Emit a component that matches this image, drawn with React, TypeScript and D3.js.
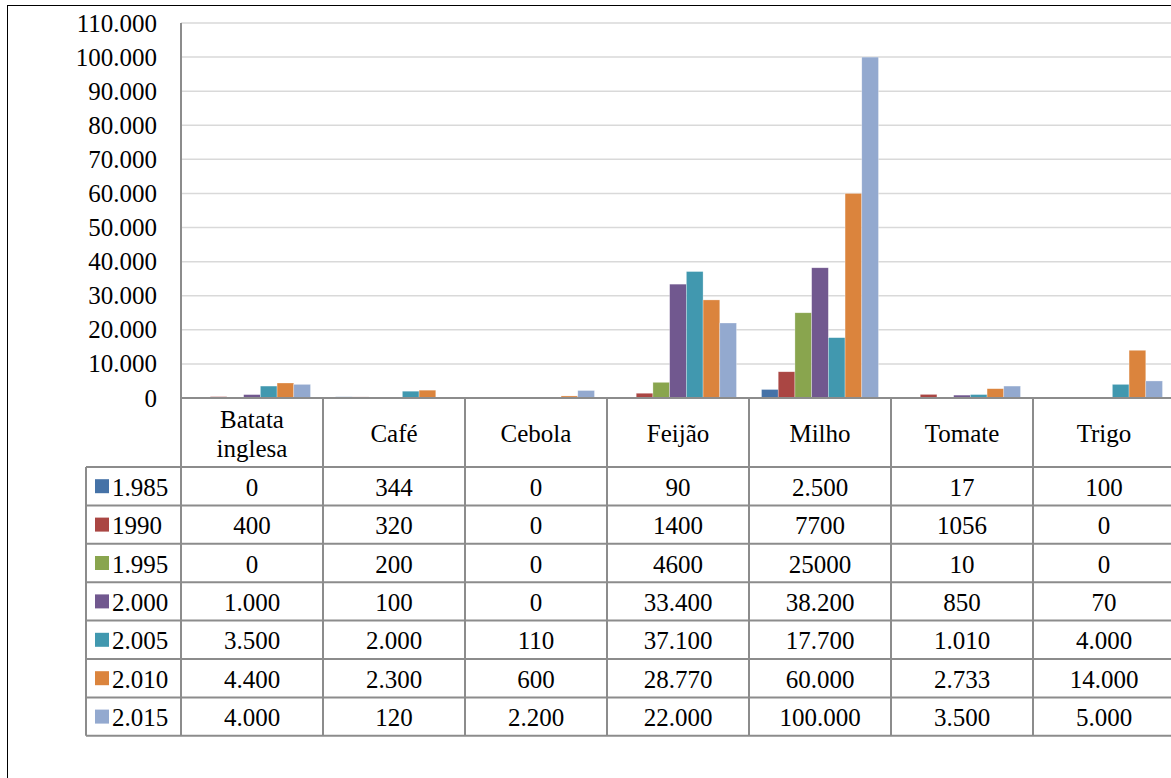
import React from 'react';
import * as d3 from 'd3';

// categories and series
const categories = ['Batata inglesa', 'Café', 'Cebola', 'Feijão', 'Milho', 'Tomate', 'Trigo'];
const seriesNames = ['1.985', '1990', '1.995', '2.000', '2.005', '2.010', '2.015'];
const colors = ['#4572A7', '#AA4643', '#89A54E', '#71588F', '#4198AF', '#DB843D', '#93A9CF'];

const v1985 = [0, 344, 0, 90, 2500, 17, 100];
const v1990 = [400, 320, 0, 1400, 7700, 1056, 0];
const v1995 = [0, 200, 0, 4600, 25000, 10, 0];
const v2000 = [1000, 100, 0, 33400, 38200, 850, 70];
const v2005 = [3500, 2000, 110, 37100, 17700, 1010, 4000];
const v2010 = [4400, 2300, 600, 28770, 60000, 2733, 14000];
const v2015 = [4000, 120, 2200, 22000, 100000, 3500, 5000];

// table cell text exactly as printed
const l1985 = ['0', '344', '0', '90', '2.500', '17', '100'];
const l1990 = ['400', '320', '0', '1400', '7700', '1056', '0'];
const l1995 = ['0', '200', '0', '4600', '25000', '10', '0'];
const l2000 = ['1.000', '100', '0', '33.400', '38.200', '850', '70'];
const l2005 = ['3.500', '2.000', '110', '37.100', '17.700', '1.010', '4.000'];
const l2010 = ['4.400', '2.300', '600', '28.770', '60.000', '2.733', '14.000'];
const l2015 = ['4.000', '120', '2.200', '22.000', '100.000', '3.500', '5.000'];

const yTicks = [0, 10000, 20000, 30000, 40000, 50000, 60000, 70000, 80000, 90000, 100000, 110000];

const values = [v1985, v1990, v1995, v2000, v2005, v2010, v2015];
const labels = [l1985, l1990, l1995, l2000, l2005, l2010, l2015];

const W = 1171;
const H = 778;
const plotLeft = 181;
const plotTop = 23;
const plotBottom = 398;
const catW = 142;
const headerBottom = 467;
const rowH = 38.4;
const legendLeft = 86;
const font = "'Liberation Serif', 'Times New Roman', serif";
const fs = 25;

// thousands separator is a dot
const fmt = (n: number) => d3.format(',')(n).replace(/,/g, '.');

const App: React.FC = () => {
  const x = d3.scaleBand<string>()
    .domain(categories)
    .range([plotLeft, plotLeft + catW * categories.length]);
  const xs = d3.scaleBand<string>()
    .domain(seriesNames)
    .range([12.5, catW - 12.5]);
  const y = d3.scaleLinear().domain([0, 110000]).range([plotBottom, plotTop]);

  const tableBottom = headerBottom + rowH * seriesNames.length;
  const grid = '#8C8C8C';

  return (
    <svg width={W} height={H} style={{ position: 'fixed', left: 0, top: 0, background: '#fff', fontFamily: font }}>
      <rect x={7.5} y={5.5} width={W} height={H} fill="#fff" stroke="#000" strokeWidth={1} />

      {/* gridlines and y labels */}
      {yTicks.map(t => (
        <g key={t}>
          {t > 0 && <line x1={plotLeft} x2={W} y1={y(t)} y2={y(t)} stroke="#D9D9D9" strokeWidth={1.5} />}
          <text x={157} y={y(t)} textAnchor="end" dominantBaseline="central" fontSize={fs}>
            {fmt(t)}
          </text>
        </g>
      ))}

      {/* bars */}
      {categories.map((c, ci) => (
        <g key={c} transform={`translate(${x(c)},0)`}>
          {seriesNames.map((s, si) => {
            const v = values[si][ci];
            return (
              <rect
                key={s}
                x={xs(s)}
                y={y(v)}
                width={xs.bandwidth()}
                height={plotBottom - y(v)}
                fill={colors[si]}
                stroke="#ffffff"
                strokeOpacity={0.5}
                strokeWidth={0.6}
              />
            );
          })}
        </g>
      ))}

      {/* axis line */}
      <line x1={plotLeft} x2={plotLeft} y1={plotTop} y2={tableBottom} stroke={grid} strokeWidth={2} />

      {/* data table */}
      <line x1={plotLeft} x2={W} y1={plotBottom} y2={plotBottom} stroke={grid} strokeWidth={2} />
      {categories.map(c => (
        <line key={c} x1={x(c)! + catW} x2={x(c)! + catW} y1={plotBottom} y2={tableBottom} stroke={grid} strokeWidth={2} />
      ))}
      {seriesNames.map((s, si) => (
        <line key={s} x1={legendLeft} x2={W} y1={headerBottom + si * rowH} y2={headerBottom + si * rowH} stroke={grid} strokeWidth={2} />
      ))}
      <line x1={legendLeft} x2={W} y1={tableBottom} y2={tableBottom} stroke={grid} strokeWidth={2} />
      <line x1={legendLeft} x2={legendLeft} y1={headerBottom} y2={tableBottom} stroke={grid} strokeWidth={2} />

      {/* header texts */}
      {categories.map(c => {
        const words = c === 'Batata inglesa' ? ['Batata', 'inglesa'] : [c];
        const cx = x(c)! + catW / 2;
        const cy = (plotBottom + headerBottom) / 2 + 1;
        return (
          <text key={c} x={cx} textAnchor="middle" fontSize={fs}>
            {words.map((w, i) => (
              <tspan key={w} x={cx} y={cy + (i - (words.length - 1) / 2) * 29} dominantBaseline="central">
                {w}
              </tspan>
            ))}
          </text>
        );
      })}

      {/* rows */}
      {seriesNames.map((s, si) => {
        const cy = headerBottom + si * rowH + rowH / 2;
        return (
          <g key={s}>
            <rect x={95} y={cy - 7} width={14} height={14} fill={colors[si]} />
            <text x={112} y={cy + 1} dominantBaseline="central" fontSize={fs}>{s}</text>
            {categories.map((c, ci) => (
              <text key={c} x={x(c)! + catW / 2} y={cy + 1} textAnchor="middle" dominantBaseline="central" fontSize={fs}>
                {labels[si][ci]}
              </text>
            ))}
          </g>
        );
      })}
    </svg>
  );
};

export default App;
